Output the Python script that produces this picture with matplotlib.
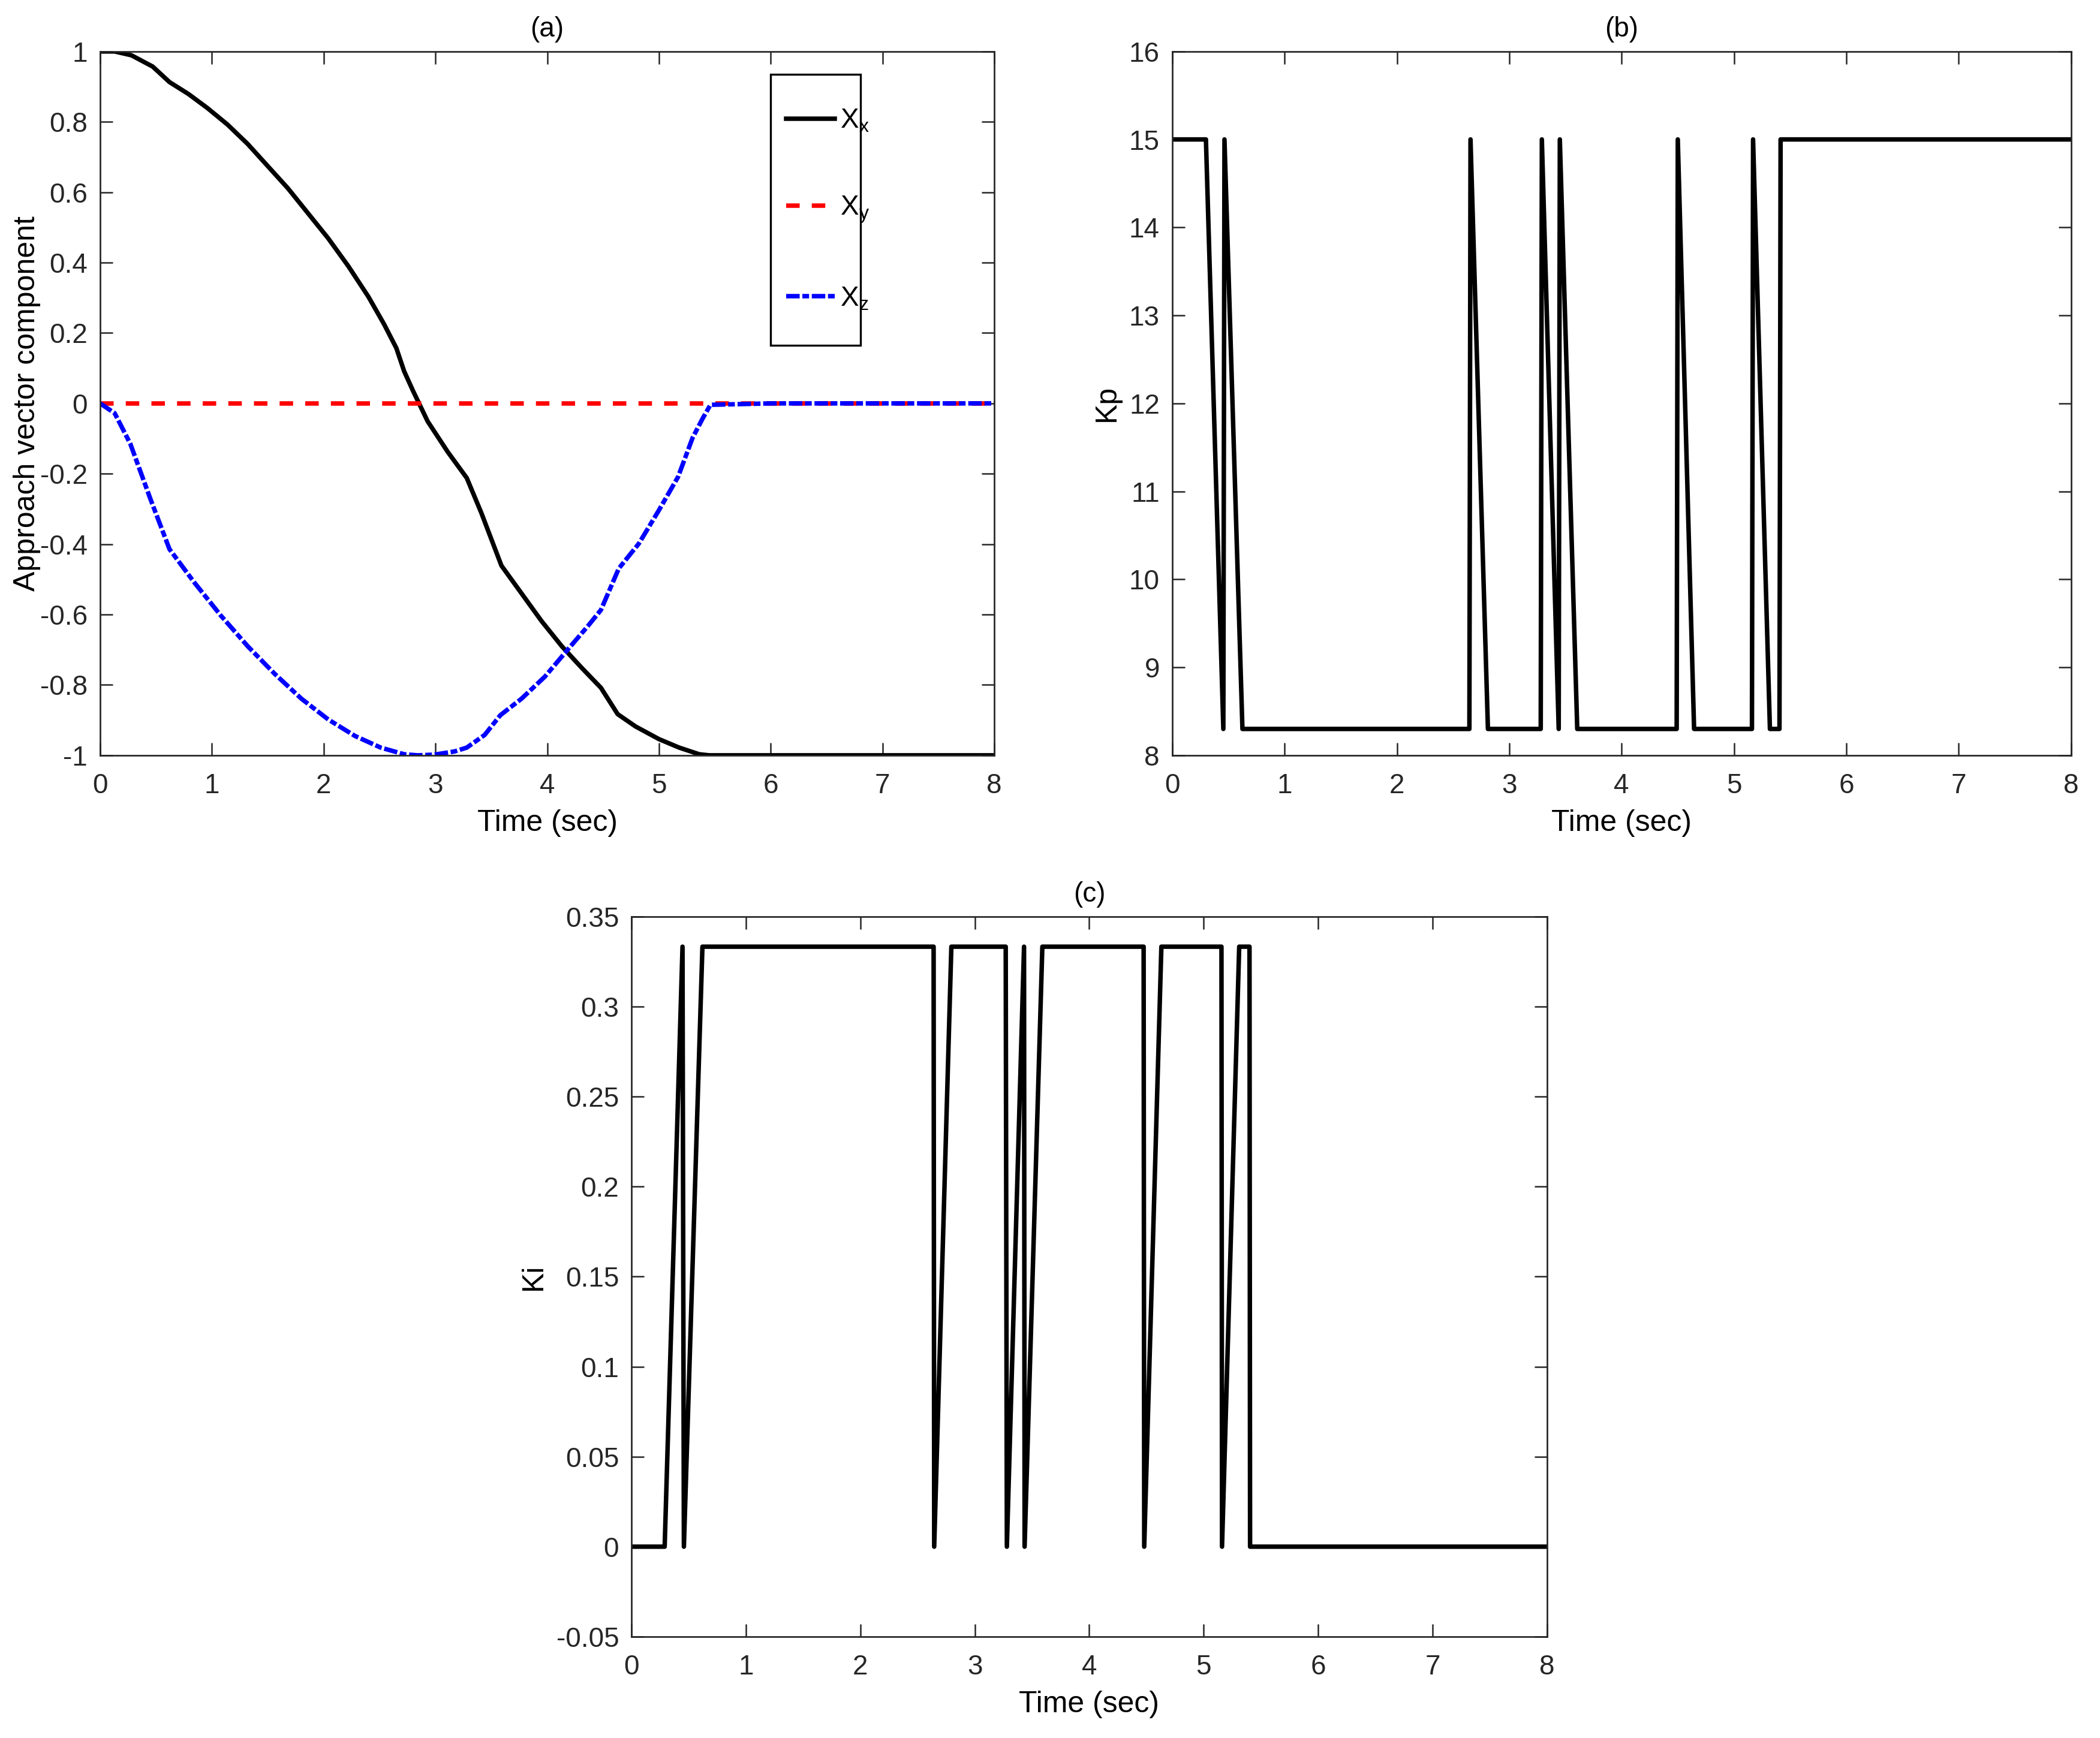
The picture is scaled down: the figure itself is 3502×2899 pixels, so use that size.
import matplotlib
matplotlib.use('Agg')
import matplotlib.pyplot as plt
from matplotlib.patches import Rectangle

plt.rcParams['font.family'] = ['Liberation Sans', 'DejaVu Sans']
plt.rcParams['mathtext.default'] = 'regular'

# Data
t_a = [0, 0.13, 0.28, 0.47, 0.62, 0.79, 0.96, 1.14, 1.32, 1.50, 1.68, 1.86, 2.04, 2.22,
       2.40, 2.54, 2.65, 2.72, 2.80, 2.93, 3.11, 3.28, 3.41, 3.59, 3.77, 3.95, 4.13,
       4.31, 4.48, 4.63, 4.79, 5.00, 5.18, 5.36, 5.45, 8.0]
xx = [1.0, 1.0, 0.989, 0.957, 0.913, 0.879, 0.839, 0.792, 0.737, 0.674, 0.611, 0.540,
      0.469, 0.390, 0.303, 0.225, 0.157, 0.091, 0.035, -0.051, -0.138, -0.212, -0.311,
      -0.461, -0.540, -0.619, -0.690, -0.752, -0.808, -0.883, -0.918, -0.954, -0.978,
      -0.997, -1.0, -1.0]

t_z = [0, 0.13, 0.27, 0.45, 0.62, 0.84, 1.08, 1.32, 1.56, 1.80, 2.04, 2.28, 2.51, 2.72,
       2.84, 2.99, 3.17, 3.28, 3.44, 3.58, 3.77, 3.98, 4.19, 4.36, 4.48, 4.64, 4.82,
       5.00, 5.17, 5.30, 5.39, 5.46, 6.0, 8.0]
xz = [0, -0.028, -0.115, -0.272, -0.414, -0.508, -0.603, -0.690, -0.768, -0.839, -0.898,
      -0.945, -0.978, -0.997, -1.0, -0.998, -0.989, -0.978, -0.942, -0.886, -0.839,
      -0.776, -0.697, -0.634, -0.587, -0.469, -0.398, -0.303, -0.209, -0.098, -0.043,
      -0.004, 0, 0]

t_y = [0, 8]
xy = [0, 0]

kp_t = [0, 0.30, 0.455, 0.465, 0.625, 2.645, 2.655, 2.81, 3.28, 3.29, 3.44, 3.45, 3.605,
        4.49, 4.50, 4.645, 5.16, 5.17, 5.32, 5.405, 5.415, 8]
kp = [15, 15, 8.3, 15, 8.3, 8.3, 15, 8.3, 8.3, 15, 8.3, 15, 8.3,
      8.3, 15, 8.3, 8.3, 15, 8.3, 8.3, 15, 15]

ki_t = [0, 0.29, 0.446, 0.458, 0.62, 2.64, 2.645, 2.795, 3.27, 3.28, 3.43, 3.435, 3.59,
        4.475, 4.48, 4.63, 5.155, 5.16, 5.31, 5.40, 5.405, 8]
ki = [0, 0, 0.3333, 0, 0.3333, 0.3333, 0, 0.3333, 0.3333, 0, 0.3333, 0, 0.3333,
      0.3333, 0, 0.3333, 0.3333, 0, 0.3333, 0.3333, 0, 0]

x_ticks = [0, 1, 2, 3, 4, 5, 6, 7, 8]
a_yticks = [-1, -0.8, -0.6, -0.4, -0.2, 0, 0.2, 0.4, 0.6, 0.8, 1]
a_ylabels = ['-1', '-0.8', '-0.6', '-0.4', '-0.2', '0', '0.2', '0.4', '0.6', '0.8', '1']
b_yticks = [8, 9, 10, 11, 12, 13, 14, 15, 16]
c_yticks = [-0.05, 0, 0.05, 0.1, 0.15, 0.2, 0.25, 0.3, 0.35]
c_ylabels = ['-0.05', '0', '0.05', '0.1', '0.15', '0.2', '0.25', '0.3', '0.35']

gray = '#262626'
lw = 1.8


def style(ax, title, ylabel, yticks, ylabels, ylim, ylab_x):
    ax.set_xlim(0, 8)
    ax.set_ylim(*ylim)
    ax.set_xticks(x_ticks)
    ax.set_xticklabels([str(v) for v in x_ticks])
    ax.set_yticks(yticks)
    ax.set_yticklabels(ylabels)
    ax.tick_params(direction='in', top=True, right=True, length=5, width=0.6,
                   colors=gray, labelsize=11, labelcolor=gray)
    ax.tick_params(axis='x', pad=7)
    ax.tick_params(axis='y', pad=5)
    for s in ax.spines.values():
        s.set_linewidth(0.65)
        s.set_color(gray)
    ax.set_title(title, fontsize=11, pad=6)
    ax.set_xlabel('Time (sec)', fontsize=12, labelpad=4)
    ax.set_ylabel(ylabel, fontsize=12, va='center')
    ax.yaxis.set_label_coords(ylab_x, 0.5)


fig = plt.figure(figsize=(3502 / 300, 2899 / 300), dpi=300)

# (a)
ax1 = fig.add_axes([0.0477, 0.5654, 0.4258, 0.405])
ax1.plot(t_a, xx, color='k', lw=lw, label='X$_x$')
ax1.plot(t_y, xy, color='r', lw=lw, dashes=(3, 2.7), dash_capstyle='butt', label='X$_y$')
ax1.plot(t_z, xz, color='b', lw=lw, dashes=(3, 0.6, 1.5, 0.6), dash_capstyle='butt',
         label='X$_z$')
style(ax1, '(a)', 'Approach vector component', a_yticks, a_ylabels, (-1, 1), -0.082)
ax1.legend(loc='center left', bbox_to_anchor=(0.752, 0.775), frameon=False,
           handlelength=1.75, handletextpad=0.2, labelspacing=2.2, borderpad=0,
           fontsize=11)
ax1.add_patch(Rectangle((0.75, 0.5826), 0.10, 0.385, transform=ax1.transAxes,
                        fill=False, lw=0.8, ec='k'))

# (b)
ax2 = fig.add_axes([0.5582, 0.5654, 0.4280, 0.405])
ax2.plot(kp_t, kp, color='k', lw=lw)
style(ax2, '(b)', 'Kp', b_yticks, [str(v) for v in b_yticks], (8, 16), -0.073)

# (c)
ax3 = fig.add_axes([0.3007, 0.0583, 0.4360, 0.4143])
ax3.plot(ki_t, ki, color='k', lw=lw)
style(ax3, '(c)', 'Ki', c_yticks, c_ylabels, (-0.05, 0.35), -0.107)

fig.savefig('out.png', dpi=300)
